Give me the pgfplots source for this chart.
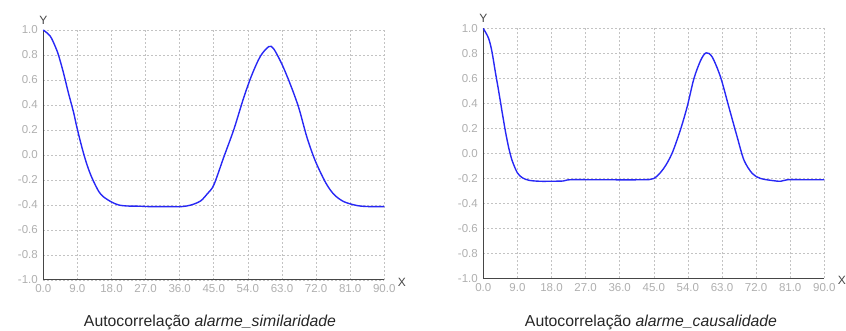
\documentclass[border=0pt]{standalone}
\usepackage{fontspec}
\setmainfont{Liberation Sans}
\usepackage{pgfplots}
\pgfplotsset{compat=1.18}
\definecolor{tickgray}{RGB}{175,175,175}
\definecolor{gridgray}{RGB}{195,195,195}
\definecolor{axisgray}{RGB}{70,70,70}
\definecolor{curve}{RGB}{40,40,245}
\pgfplotsset{acstyle/.style={
  scale only axis, width=341pt, height=250pt,
  xmin=0, xmax=90, ymin=-1, ymax=1,
  xtick={0,9,...,90}, ytick={-1,-0.8,...,1.01},
  axis x line=bottom, axis y line=left,
  axis line style={-, axisgray, line width=1pt},
  grid=major, major grid style={gridgray, dash pattern=on 2pt off 2pt, line width=0.6pt},
  major tick length=0pt,
  /pgf/number format/assume math mode=true,
  /pgf/number format/fixed, /pgf/number format/fixed zerofill, /pgf/number format/precision=1,
  tick label style={font=\fontsize{11.5}{13}\selectfont, text=tickgray},
  yticklabel style={xshift=-2pt},
  xticklabel style={yshift=-1pt},
  clip=false,
}}
\begin{document}
\begin{tikzpicture}[x=1pt,y=1pt]
\useasboundingbox (0,0) rectangle (846,331);
\begin{axis}[acstyle, at={(43.3pt,51pt)}, anchor=south west]
\addplot[curve, line width=1.4pt, smooth, tension=0.5] coordinates {
(0,1.0) (1.8,0.952) (3.1,0.872) (4.0,0.80) (5.3,0.66) (6.6,0.50) (8.0,0.34) (8.8,0.23) (10.2,0.06) (11.5,-0.075) (12.8,-0.18) (14.6,-0.29) (15.9,-0.335) (18,-0.376) (19.9,-0.40) (22.1,-0.408) (25.7,-0.41) (28,-0.413) (32.6,-0.413) (36.5,-0.413) (39,-0.40) (41.5,-0.368) (43.3,-0.31) (45,-0.24) (47.6,-0.02) (50.3,0.205) (52.9,0.459) (55.1,0.645) (57.3,0.79) (59.5,0.867) (60.8,0.85) (63,0.725) (65.2,0.565) (67.4,0.38) (69.6,0.14) (71.8,-0.048) (74.5,-0.22) (76.7,-0.315) (79.3,-0.373) (82.9,-0.405) (86.2,-0.413) (90,-0.413)
};
\node[anchor=west, font=\fontsize{12}{14}\selectfont, text=axisgray] at (rel axis cs:1,0) [xshift=10pt, yshift=-2pt] {X};
\node[anchor=south, font=\fontsize{12}{14}\selectfont, text=axisgray] at (rel axis cs:0,1) [yshift=2pt] {Y};
\end{axis}
\begin{axis}[acstyle, at={(483.3pt,52.5pt)}, anchor=south west]
\addplot[curve, line width=1.4pt, smooth, tension=0.5] coordinates {
(0,1.0) (1.35,0.925) (2.25,0.82) (3.15,0.657) (4.05,0.50) (4.95,0.335) (5.85,0.175) (6.75,0.04) (7.65,-0.06) (9,-0.155) (10.35,-0.195) (12.15,-0.215) (14.85,-0.222) (18,-0.222) (21.1,-0.22) (22.9,-0.21) (30,-0.21) (41.5,-0.21) (45,-0.2) (47.6,-0.12) (49.8,0.0) (52,0.187) (53.8,0.373) (55.6,0.6) (57.4,0.747) (58.8,0.805) (60.4,0.773) (62.6,0.613) (64.8,0.373) (67,0.133) (68.8,-0.053) (71,-0.16) (73.2,-0.2) (76.7,-0.218) (78.5,-0.222) (80.3,-0.21) (85,-0.21) (90,-0.21)
};
\node[anchor=west, font=\fontsize{12}{14}\selectfont, text=axisgray] at (rel axis cs:1,0) [xshift=10pt, yshift=-2pt] {X};
\node[anchor=south, font=\fontsize{12}{14}\selectfont, text=axisgray] at (rel axis cs:0,1) [yshift=2pt] {Y};
\end{axis}
\node[font=\fontsize{15.8}{17}\selectfont, text=black!85] at (210,9) {Autocorrelação \textit{alarme\_similaridade}};
\node[font=\fontsize{15.8}{17}\selectfont, text=black!85] at (651,9) {Autocorrelação \textit{alarme\_causalidade}};
\end{tikzpicture}
\end{document}
